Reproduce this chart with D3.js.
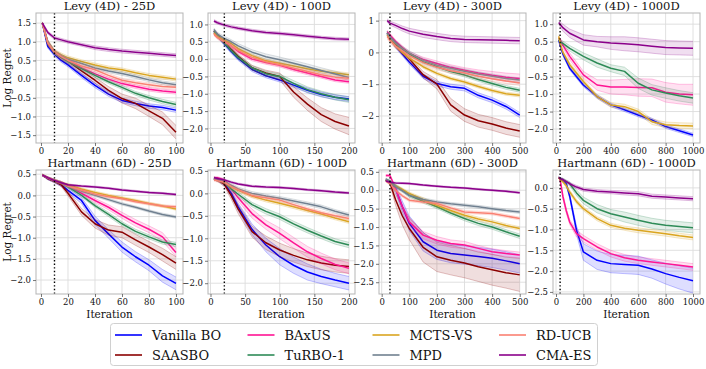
<!DOCTYPE html>
<html><head><meta charset="utf-8">
<script src="https://cdn.jsdelivr.net/npm/d3@7"></script>
<style>body{margin:0;background:#fff}svg{display:block}svg text{font-family:"DejaVu Serif","Liberation Serif",serif !important}</style>
</head><body><svg id="c" width="706" height="369"></svg>
<script>
// ---------------- DATA ----------------
const methods = ["Vanilla BO","SAASBO","BAxUS","TuRBO-1","MCTS-VS","MPD","RD-UCB","CMA-ES"];
const methodColors = ["#0000ff","#8b0000","#ff1493","#2e8b57","#daa520","#708090","#fa8072","#8b008b"];
const panelTitles = ["Levy (4D) - 25D","Levy (4D) - 100D","Levy (4D) - 300D","Levy (4D) - 1000D",
  "Hartmann (6D) - 25D","Hartmann (6D) - 100D","Hartmann (6D) - 300D","Hartmann (6D) - 1000D"];
const initIters = [10, 20, 30, 30];
const xTicks25 = [0,20,40,60,80,100];
const xTicks100 = [0,50,100,150,200];
const xTicks300 = [0,100,200,300,400,500];
const xTicks1000 = [0,200,400,600,800,1000];
const yTicksLevy25 = [-1.5,-1,-0.5,0,0.5,1,1.5];
const yTicksLevy100 = [-2,-1.5,-1,-0.5,0,0.5,1];
const yTicksLevy300 = [-2,-1,0,1];
const yTicksLevy1000 = [-2,-1.5,-1,-0.5,0,0.5,1];
const yTicksHart25 = [-2,-1.5,-1,-0.5,0,0.5];
const yTicksHart100 = [-2,-1.5,-1,-0.5,0,0.5];
const yTicksHart300 = [-2.5,-2,-1.5,-1,-0.5,0,0.5];
const yTicksHart1000 = [-2.5,-2,-1.5,-1,-0.5,0];

// Levy 25D
const levy25X = [1,5,10,15,20,30,40,50,60,70,80,90,100];
const levy25Mean = [
  [1.5,0.88,0.66,0.5,0.38,0.1,-0.17,-0.4,-0.57,-0.65,-0.72,-0.76,-0.83],
  [1.5,0.95,0.72,0.58,0.48,0.22,-0.03,-0.3,-0.52,-0.65,-0.85,-1.05,-1.42],
  [1.5,0.98,0.72,0.6,0.5,0.3,0.14,0.0,-0.12,-0.2,-0.27,-0.32,-0.35],
  [1.5,0.97,0.7,0.58,0.47,0.28,0.1,-0.07,-0.22,-0.38,-0.5,-0.6,-0.68],
  [1.5,1.0,0.75,0.65,0.57,0.47,0.38,0.3,0.25,0.17,0.1,0.05,0.0],
  [1.5,1.0,0.73,0.62,0.53,0.42,0.3,0.22,0.15,0.07,-0.02,-0.1,-0.15],
  [1.5,0.97,0.72,0.6,0.5,0.35,0.25,0.1,-0.03,-0.1,-0.15,-0.2,-0.22],
  [1.5,1.25,1.1,1.05,1.0,0.92,0.84,0.79,0.75,0.72,0.69,0.66,0.63]];
const levy25Band = [
  [0.03,0.05,0.05,0.05,0.05,0.06,0.06,0.06,0.06,0.06,0.06,0.06,0.06],
  [0.03,0.05,0.06,0.07,0.07,0.08,0.08,0.1,0.12,0.14,0.15,0.17,0.18],
  [0.03,0.05,0.05,0.05,0.05,0.05,0.05,0.05,0.05,0.05,0.05,0.05,0.05],
  [0.03,0.05,0.05,0.05,0.05,0.05,0.05,0.05,0.05,0.05,0.06,0.06,0.06],
  [0.03,0.05,0.05,0.05,0.05,0.05,0.05,0.05,0.05,0.05,0.05,0.05,0.05],
  [0.03,0.05,0.05,0.05,0.05,0.05,0.05,0.05,0.05,0.05,0.05,0.05,0.05],
  [0.03,0.05,0.05,0.05,0.05,0.05,0.05,0.05,0.05,0.05,0.05,0.05,0.05],
  [0.03,0.04,0.04,0.04,0.04,0.04,0.05,0.05,0.05,0.05,0.05,0.05,0.05]];

// Levy 100D
const levy100X = [5,10,20,30,40,60,80,100,120,140,160,180,200];
const levy100Mean = [
  [0.8,0.68,0.45,0.22,0.02,-0.3,-0.48,-0.6,-0.75,-0.9,-1.02,-1.1,-1.15],
  [0.82,0.7,0.5,0.28,0.08,-0.25,-0.4,-0.5,-0.95,-1.3,-1.6,-1.8,-1.93],
  [0.75,0.65,0.52,0.38,0.22,0.0,-0.1,-0.18,-0.3,-0.4,-0.5,-0.6,-0.65],
  [0.8,0.68,0.47,0.25,0.05,-0.25,-0.42,-0.5,-0.7,-0.88,-1.0,-1.1,-1.17],
  [0.75,0.65,0.55,0.45,0.3,0.1,-0.05,-0.12,-0.2,-0.28,-0.35,-0.4,-0.45],
  [0.85,0.72,0.6,0.5,0.38,0.2,0.07,-0.02,-0.12,-0.22,-0.33,-0.43,-0.53],
  [0.72,0.62,0.5,0.38,0.25,0.05,-0.08,-0.16,-0.26,-0.36,-0.45,-0.52,-0.55],
  [1.1,1.05,0.98,0.93,0.89,0.82,0.77,0.74,0.7,0.66,0.62,0.59,0.57]];
const levy100Band = [
  [0.05,0.05,0.06,0.06,0.06,0.06,0.06,0.06,0.06,0.07,0.07,0.07,0.07],
  [0.05,0.05,0.06,0.06,0.06,0.07,0.08,0.1,0.15,0.18,0.2,0.22,0.25],
  [0.05,0.05,0.05,0.05,0.05,0.05,0.05,0.05,0.05,0.05,0.05,0.05,0.05],
  [0.05,0.05,0.06,0.06,0.06,0.06,0.07,0.07,0.08,0.08,0.08,0.08,0.08],
  [0.05,0.05,0.05,0.05,0.05,0.05,0.05,0.05,0.05,0.05,0.05,0.05,0.05],
  [0.05,0.05,0.06,0.06,0.07,0.07,0.08,0.08,0.08,0.08,0.08,0.08,0.08],
  [0.05,0.05,0.05,0.05,0.05,0.05,0.05,0.05,0.05,0.05,0.05,0.05,0.05],
  [0.04,0.04,0.04,0.04,0.04,0.04,0.04,0.04,0.04,0.04,0.04,0.04,0.04]];

// Levy 300D
const levy300X = [20,30,50,75,100,150,200,250,300,350,400,450,500];
const levy300Mean = [
  [0.6,0.45,0.2,-0.05,-0.3,-0.75,-0.98,-1.08,-1.13,-1.35,-1.5,-1.7,-1.97],
  [0.6,0.45,0.25,0.0,-0.2,-0.7,-1.0,-1.65,-1.97,-2.15,-2.25,-2.38,-2.47],
  [0.65,0.55,0.35,0.15,-0.03,-0.22,-0.35,-0.47,-0.56,-0.65,-0.72,-0.78,-0.82],
  [0.6,0.45,0.28,0.1,-0.05,-0.3,-0.45,-0.6,-0.71,-0.85,-0.98,-1.1,-1.19],
  [0.55,0.4,0.2,0.0,-0.18,-0.45,-0.66,-0.82,-0.93,-1.07,-1.2,-1.3,-1.35],
  [0.6,0.48,0.3,0.12,-0.02,-0.25,-0.4,-0.5,-0.59,-0.68,-0.75,-0.82,-0.87],
  [0.5,0.38,0.2,0.05,-0.1,-0.32,-0.47,-0.58,-0.65,-0.75,-0.83,-0.9,-0.96],
  [1.0,0.92,0.85,0.75,0.67,0.57,0.5,0.44,0.41,0.4,0.39,0.38,0.37]];
const levy300Band = [
  [0.06,0.06,0.06,0.06,0.07,0.07,0.07,0.08,0.08,0.08,0.08,0.08,0.08],
  [0.06,0.06,0.07,0.08,0.08,0.1,0.15,0.2,0.2,0.2,0.2,0.2,0.2],
  [0.05,0.05,0.05,0.06,0.06,0.07,0.08,0.08,0.08,0.1,0.12,0.13,0.14],
  [0.06,0.06,0.06,0.06,0.06,0.06,0.06,0.06,0.06,0.06,0.06,0.06,0.06],
  [0.05,0.05,0.05,0.05,0.05,0.05,0.05,0.05,0.05,0.05,0.05,0.05,0.05],
  [0.07,0.07,0.07,0.07,0.07,0.07,0.07,0.07,0.07,0.07,0.07,0.07,0.07],
  [0.08,0.08,0.08,0.08,0.08,0.08,0.08,0.08,0.08,0.08,0.08,0.08,0.08],
  [0.05,0.06,0.07,0.08,0.09,0.1,0.1,0.1,0.1,0.1,0.1,0.1,0.1]];

// Levy 1000D (SAASBO, MPD, RD-UCB not run)
const levy1000X = [20,30,50,100,200,300,400,500,600,700,800,900,1000];
const levy1000Mean = [
  [0.55,0.4,0.15,-0.26,-0.74,-1.07,-1.31,-1.45,-1.6,-1.74,-1.93,-2.05,-2.17],
  null,
  [0.6,0.55,0.4,0.08,-0.45,-0.74,-0.8,-0.8,-0.81,-0.82,-0.95,-1.0,-1.02],
  [0.55,0.5,0.45,0.31,0.08,-0.11,-0.26,-0.35,-0.69,-0.88,-0.97,-1.05,-1.11],
  [0.65,0.45,0.2,-0.16,-0.64,-1.07,-1.31,-1.36,-1.5,-1.79,-1.88,-1.9,-1.91],
  null,
  null,
  [1.05,1.0,0.9,0.74,0.55,0.5,0.46,0.44,0.41,0.37,0.33,0.32,0.31]];
const levy1000Band = [
  [0.05,0.05,0.05,0.05,0.05,0.05,0.05,0.05,0.05,0.05,0.05,0.05,0.05],
  null,
  [0.05,0.05,0.08,0.1,0.1,0.15,0.2,0.22,0.25,0.25,0.28,0.28,0.3],
  [0.05,0.05,0.07,0.08,0.1,0.12,0.1,0.12,0.15,0.15,0.15,0.15,0.15],
  [0.05,0.05,0.05,0.06,0.06,0.06,0.07,0.07,0.07,0.08,0.08,0.08,0.08],
  null,
  null,
  [0.05,0.07,0.1,0.12,0.15,0.15,0.18,0.2,0.2,0.2,0.2,0.2,0.2]];

// Hartmann 25D
const hart25X = [1,5,10,15,20,30,40,50,60,70,80,90,100];
const hart25Mean = [
  [0.48,0.4,0.33,0.25,0.12,-0.12,-0.59,-0.91,-1.22,-1.45,-1.65,-1.9,-2.08],
  [0.48,0.4,0.33,0.25,0.05,-0.39,-0.67,-0.82,-0.87,-1.05,-1.22,-1.4,-1.6],
  [0.48,0.42,0.35,0.3,0.22,0.05,-0.12,-0.28,-0.47,-0.65,-0.8,-0.98,-1.35],
  [0.48,0.42,0.35,0.3,0.2,0.0,-0.24,-0.45,-0.67,-0.85,-0.98,-1.1,-1.16],
  [0.48,0.42,0.35,0.3,0.25,0.15,0.07,0.0,-0.06,-0.12,-0.19,-0.25,-0.32],
  [0.48,0.42,0.35,0.3,0.22,0.1,0.0,-0.1,-0.2,-0.28,-0.37,-0.45,-0.51],
  [0.48,0.42,0.35,0.3,0.22,0.12,0.03,-0.03,-0.08,-0.15,-0.2,-0.25,-0.27],
  [0.48,0.42,0.35,0.3,0.25,0.22,0.2,0.17,0.13,0.1,0.07,0.05,0.02]];
const hart25Band = [
  [0.02,0.03,0.03,0.04,0.05,0.07,0.1,0.1,0.12,0.12,0.13,0.15,0.15],
  [0.02,0.03,0.03,0.04,0.06,0.08,0.1,0.12,0.13,0.13,0.13,0.15,0.15],
  [0.02,0.02,0.03,0.03,0.03,0.04,0.05,0.06,0.07,0.08,0.08,0.1,0.1],
  [0.02,0.02,0.03,0.03,0.03,0.04,0.04,0.05,0.05,0.05,0.05,0.05,0.05],
  [0.02,0.02,0.03,0.03,0.03,0.03,0.03,0.03,0.03,0.03,0.03,0.03,0.03],
  [0.02,0.02,0.03,0.03,0.03,0.03,0.03,0.03,0.03,0.03,0.03,0.03,0.03],
  [0.02,0.02,0.03,0.03,0.03,0.03,0.03,0.03,0.03,0.03,0.03,0.03,0.03],
  [0.02,0.02,0.02,0.02,0.02,0.02,0.02,0.02,0.02,0.02,0.02,0.02,0.02]];

// Hartmann 100D
const hart100X = [5,10,20,30,40,60,80,100,120,140,160,180,200];
const hart100Mean = [
  [0.33,0.3,0.22,0.0,-0.3,-0.8,-1.15,-1.41,-1.6,-1.75,-1.85,-1.93,-2.0],
  [0.33,0.3,0.2,-0.05,-0.35,-0.85,-1.1,-1.26,-1.38,-1.48,-1.55,-1.6,-1.63],
  [0.35,0.35,0.3,0.1,-0.1,-0.45,-0.7,-0.89,-1.1,-1.3,-1.45,-1.58,-1.67],
  [0.33,0.3,0.25,0.1,-0.02,-0.25,-0.4,-0.52,-0.68,-0.82,-0.95,-1.07,-1.15],
  [0.33,0.3,0.25,0.15,0.07,-0.06,-0.15,-0.22,-0.3,-0.38,-0.46,-0.55,-0.63],
  [0.33,0.3,0.27,0.18,0.1,0.0,-0.06,-0.11,-0.17,-0.23,-0.3,-0.4,-0.48],
  [0.3,0.28,0.25,0.15,0.08,-0.05,-0.1,-0.15,-0.25,-0.35,-0.43,-0.5,-0.56],
  [0.35,0.33,0.3,0.25,0.21,0.16,0.14,0.13,0.11,0.08,0.06,0.03,0.01]];
const hart100Band = [
  [0.03,0.03,0.04,0.06,0.08,0.12,0.15,0.18,0.18,0.18,0.16,0.15,0.15],
  [0.03,0.03,0.05,0.08,0.1,0.12,0.15,0.15,0.15,0.15,0.15,0.15,0.15],
  [0.02,0.02,0.03,0.05,0.07,0.1,0.1,0.12,0.12,0.12,0.12,0.12,0.12],
  [0.03,0.03,0.03,0.04,0.05,0.05,0.06,0.06,0.06,0.06,0.06,0.06,0.06],
  [0.03,0.03,0.03,0.04,0.04,0.04,0.04,0.04,0.04,0.04,0.04,0.04,0.04],
  [0.03,0.03,0.03,0.04,0.04,0.04,0.04,0.04,0.04,0.04,0.04,0.04,0.04],
  [0.03,0.03,0.03,0.04,0.04,0.04,0.04,0.04,0.04,0.04,0.04,0.04,0.04],
  [0.02,0.02,0.02,0.02,0.02,0.02,0.02,0.02,0.02,0.02,0.02,0.02,0.02]];

// Hartmann 300D
const hart300X = [15,30,50,75,100,150,200,250,300,350,400,450,500];
const hart300Mean = [
  [0.28,0.22,0.05,-0.45,-0.9,-1.4,-1.63,-1.72,-1.76,-1.8,-1.85,-1.92,-2.0],
  [0.28,0.2,-0.25,-0.7,-1.04,-1.55,-1.81,-1.9,-1.98,-2.08,-2.16,-2.24,-2.3],
  [0.4,0.4,0.05,-0.45,-0.86,-1.22,-1.36,-1.45,-1.49,-1.58,-1.67,-1.72,-1.76],
  [0.28,0.22,0.12,0.0,-0.14,-0.3,-0.45,-0.62,-0.77,-0.9,-1.0,-1.13,-1.25],
  [0.28,0.22,0.12,0.02,-0.09,-0.25,-0.41,-0.55,-0.68,-0.78,-0.86,-0.96,-1.04],
  [0.3,0.25,0.1,-0.02,-0.14,-0.25,-0.32,-0.37,-0.41,-0.45,-0.5,-0.55,-0.59],
  [0.25,0.18,0.0,-0.15,-0.27,-0.32,-0.36,-0.48,-0.59,-0.61,-0.63,-0.7,-0.77],
  [0.25,0.22,0.2,0.19,0.18,0.14,0.11,0.08,0.06,0.03,0.0,-0.03,-0.07]];
const hart300Band = [
  [0.03,0.04,0.1,0.15,0.2,0.25,0.25,0.25,0.25,0.25,0.25,0.25,0.25],
  [0.03,0.05,0.15,0.25,0.3,0.4,0.4,0.4,0.4,0.4,0.42,0.42,0.45],
  [0.03,0.03,0.05,0.08,0.1,0.1,0.1,0.1,0.1,0.08,0.08,0.08,0.08],
  [0.03,0.04,0.04,0.04,0.05,0.05,0.05,0.05,0.06,0.06,0.06,0.06,0.06],
  [0.03,0.04,0.04,0.04,0.04,0.05,0.05,0.05,0.05,0.05,0.05,0.05,0.05],
  [0.03,0.04,0.04,0.04,0.04,0.04,0.04,0.04,0.04,0.04,0.04,0.04,0.04],
  [0.03,0.04,0.04,0.04,0.04,0.04,0.04,0.04,0.04,0.04,0.04,0.04,0.04],
  [0.02,0.02,0.02,0.02,0.02,0.02,0.02,0.02,0.02,0.02,0.02,0.02,0.02]];

// Hartmann 1000D (SAASBO, MPD, RD-UCB not run)
const hart1000X = [20,30,50,75,100,150,200,300,400,500,600,700,800,900,1000];
const hart1000Mean = [
  [0.25,0.22,0.18,0.1,-0.2,-1.02,-1.54,-1.74,-1.82,-1.84,-1.86,-1.95,-2.06,-2.15,-2.23],
  null,
  [0.25,0.2,-0.2,-0.55,-0.82,-1.1,-1.22,-1.42,-1.58,-1.68,-1.74,-1.78,-1.82,-1.86,-1.9],
  [0.25,0.22,0.2,0.15,0.1,-0.12,-0.3,-0.5,-0.62,-0.7,-0.78,-0.85,-0.9,-0.93,-0.96],
  [0.25,0.2,0.15,0.05,-0.1,-0.33,-0.5,-0.74,-0.9,-0.97,-1.02,-1.06,-1.1,-1.15,-1.19],
  null,
  null,
  [0.25,0.22,0.2,0.15,0.1,0.02,-0.04,-0.08,-0.1,-0.12,-0.14,-0.2,-0.22,-0.24,-0.26]];
const hart1000Band = [
  [0.02,0.03,0.03,0.04,0.05,0.1,0.2,0.22,0.22,0.22,0.22,0.22,0.25,0.28,0.3],
  null,
  [0.02,0.03,0.05,0.06,0.06,0.08,0.08,0.08,0.08,0.08,0.08,0.08,0.08,0.08,0.08],
  [0.02,0.03,0.03,0.04,0.05,0.07,0.08,0.1,0.1,0.12,0.12,0.12,0.12,0.12,0.12],
  [0.02,0.03,0.03,0.04,0.05,0.05,0.05,0.05,0.05,0.05,0.06,0.06,0.06,0.06,0.06],
  null,
  null,
  [0.02,0.03,0.03,0.03,0.03,0.04,0.04,0.04,0.04,0.05,0.05,0.05,0.05,0.05,0.05]];

// ---------------- LAYOUT ----------------
const panels = [
  {xs: levy25X, mean: levy25Mean, band: levy25Band, xt: xTicks25, yt: yTicksLevy25, yf: ".1f"},
  {xs: levy100X, mean: levy100Mean, band: levy100Band, xt: xTicks100, yt: yTicksLevy100, yf: ".1f"},
  {xs: levy300X, mean: levy300Mean, band: levy300Band, xt: xTicks300, yt: yTicksLevy300, yf: "d"},
  {xs: levy1000X, mean: levy1000Mean, band: levy1000Band, xt: xTicks1000, yt: yTicksLevy1000, yf: ".1f"},
  {xs: hart25X, mean: hart25Mean, band: hart25Band, xt: xTicks25, yt: yTicksHart25, yf: ".1f"},
  {xs: hart100X, mean: hart100Mean, band: hart100Band, xt: xTicks100, yt: yTicksHart100, yf: ".1f"},
  {xs: hart300X, mean: hart300Mean, band: hart300Band, xt: xTicks300, yt: yTicksHart300, yf: ".1f"},
  {xs: hart1000X, mean: hart1000Mean, band: hart1000Band, xt: xTicks1000, yt: yTicksHart1000, yf: ".1f"}];

const FONT = '"DejaVu Serif","Liberation Serif",serif';
const colLeft = [36, 208, 379, 553], panelW = 147;
const rowTop = [13, 170], rowBottom = [143, 294];
const xDomains = [[-3.7,105.2],[-3.6,208.7],[-9.7,522.7],[-21.9,1051]];
const yDomains = [[-1.71,1.77],[-2.42,1.33],[-2.85,1.24],[-2.40,1.32],
                  [-2.33,0.6],[-2.24,0.52],[-2.82,0.55],[-2.55,0.43]];

const svg = d3.select("#c").attr("font-family", FONT);
svg.append("rect").attr("width",706).attr("height",369).attr("fill","#fff");

panels.forEach((p, i) => {
  const r = Math.floor(i/4), c = i % 4;
  const x = d3.scaleLinear().domain(xDomains[c]).range([colLeft[c], colLeft[c] + panelW]);
  const y = d3.scaleLinear().domain(yDomains[i]).range([rowBottom[r], rowTop[r]]);
  const g = svg.append("g");
  const cid = "clip" + i;
  g.append("clipPath").attr("id", cid).append("rect")
    .attr("x", colLeft[c]).attr("y", rowTop[r]).attr("width", panelW).attr("height", rowBottom[r]-rowTop[r]);

  // grid
  g.selectAll(".gx").data(p.xt).join("line")
    .attr("x1", d => x(d)).attr("x2", d => x(d)).attr("y1", rowTop[r]).attr("y2", rowBottom[r])
    .attr("stroke", "#dcdcdc").attr("stroke-width", 0.9);
  g.selectAll(".gy").data(p.yt).join("line")
    .attr("x1", colLeft[c]).attr("x2", colLeft[c]+panelW).attr("y1", d => y(d)).attr("y2", d => y(d))
    .attr("stroke", "#dcdcdc").attr("stroke-width", 0.9);

  const plot = g.append("g").attr("clip-path", `url(#${cid})`);
  methods.forEach((m, k) => {
    const mean = p.mean[k];
    if (!mean) return;
    const band = p.band[k];
    const pts = p.xs.map((xv, j) => ({x: xv, m: mean[j], lo: mean[j] - band[j], hi: mean[j] + band[j]}));
    const col = methodColors[k];
    plot.append("path").datum(pts)
      .attr("d", d3.area().x(d => x(d.x)).y0(d => y(d.lo)).y1(d => y(d.hi)))
      .attr("fill", col).attr("fill-opacity", 0.13).attr("stroke", "none");
    ["lo","hi"].forEach(key => {
      plot.append("path").datum(pts)
        .attr("d", d3.line().x(d => x(d.x)).y(d => y(d[key])))
        .attr("fill", "none").attr("stroke", col).attr("stroke-opacity", 0.3).attr("stroke-width", 0.8);
    });
    plot.append("path").datum(pts)
      .attr("d", d3.line().x(d => x(d.x)).y(d => y(d.m)))
      .attr("fill", "none").attr("stroke", col).attr("stroke-width", 1.5).attr("stroke-linejoin","round");
  });

  // init design dotted line
  g.append("line").attr("x1", x(initIters[c])).attr("x2", x(initIters[c]))
    .attr("y1", rowTop[r]).attr("y2", rowBottom[r])
    .attr("stroke", "#000").attr("stroke-width", 1.4).attr("stroke-dasharray", "1.4,2.2");

  // frame
  g.append("rect").attr("x", colLeft[c]).attr("y", rowTop[r]).attr("width", panelW)
    .attr("height", rowBottom[r]-rowTop[r]).attr("fill","none").attr("stroke","#b5b5b5").attr("stroke-width",1);

  // axes
  const ya = g.append("g").attr("transform", `translate(${colLeft[c]},0)`)
    .call(d3.axisLeft(y).tickValues(p.yt).tickSize(3).tickPadding(2).tickFormat(d3.format(p.yf)));
  const xa = g.append("g").attr("transform", `translate(0,${rowBottom[r]})`)
    .call(d3.axisBottom(x).tickValues(p.xt).tickSize(3).tickPadding(2).tickFormat(d3.format("d")));
  [ya, xa].forEach(a => {
    a.attr("font-family", FONT).attr("font-size", 8.5);
    a.select(".domain").remove();
    a.selectAll(".tick line").attr("stroke", "#555").attr("stroke-width", 0.8);
    a.selectAll("text").attr("font-family", FONT).attr("font-size", 8.5).attr("fill", "#111");
  });

  // title
  g.append("text").attr("x", colLeft[c] + panelW/2).attr("y", rowTop[r] - 3)
    .attr("text-anchor", "middle").attr("font-family", FONT).attr("font-size", 11.5).attr("fill", "#111").text(panelTitles[i]);

  if (r === 1) {
    g.append("text").attr("x", colLeft[c] + panelW/2).attr("y", rowBottom[r] + 24)
      .attr("text-anchor", "middle").attr("font-family", FONT).attr("font-size", 10.5).attr("fill", "#111").text("Iteration");
  }
  if (c === 0) {
    const cy = (rowTop[r] + rowBottom[r]) / 2;
    g.append("text").attr("transform", `translate(11,${cy}) rotate(-90)`)
      .attr("text-anchor", "middle").attr("font-family", FONT).attr("font-size", 10.5).attr("fill", "#111").text("Log Regret");
  }
});

// legend
const legendOrder = ["Vanilla BO","BAxUS","MCTS-VS","RD-UCB","SAASBO","TuRBO-1","MPD","CMA-ES"];
const lg = svg.append("g");
lg.append("rect").attr("x", 110.5).attr("y", 323.5).attr("width", 487).attr("height", 42)
  .attr("rx", 3).attr("fill", "#fff").attr("stroke", "#d0d0d0").attr("stroke-width", 1);
const legCols = [115, 247.5, 372.5, 499];
const legRows = [335, 355];
legendOrder.forEach((name, idx) => {
  const cc = idx % 4, rr = Math.floor(idx / 4);
  const k = methods.indexOf(name);
  const lx = legCols[cc], ly = legRows[rr];
  lg.append("line").attr("x1", lx).attr("x2", lx + 27).attr("y1", ly).attr("y2", ly)
    .attr("stroke", methodColors[k]).attr("stroke-width", 1.6);
  lg.append("text").attr("x", lx + 37).attr("y", ly).attr("dy", "0.36em")
    .attr("font-family", FONT).attr("font-size", 13).attr("fill", "#111").text(name);
});
</script>
</body></html>
